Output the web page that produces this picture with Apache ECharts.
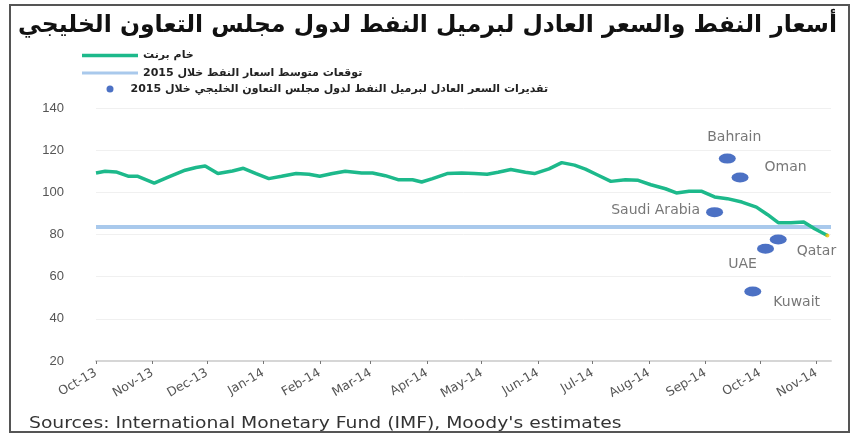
<!DOCTYPE html>
<html>
<head>
<meta charset="utf-8">
<script src="https://cdn.jsdelivr.net/npm/echarts@6/dist/echarts.min.js"></script>
<style>
  html, body { margin: 0; padding: 0; background: #fff; }
  #main { width: 857px; height: 436px; }
</style>
</head>
<body>
<div id="main" dir="rtl"></div>
<script>
// x axis: month starts and their labels
var monthStarts = ['2013-10-01', '2013-11-01', '2013-12-01', '2014-01-01', '2014-02-01', '2014-03-01', '2014-04-01',
    '2014-05-01', '2014-06-01', '2014-07-01', '2014-08-01', '2014-09-01', '2014-10-01', '2014-11-01'];
var monthLabels = ['Oct-13', 'Nov-13', 'Dec-13', 'Jan-14', 'Feb-14', 'Mar-14', 'Apr-14',
    'May-14', 'Jun-14', 'Jul-14', 'Aug-14', 'Sep-14', 'Oct-14', 'Nov-14'];
var yTicks = [20, 40, 60, 80, 100, 120, 140];

// Brent crude (USD/bbl)
var brentDates = ['2013-10-01', '2013-10-06', '2013-10-12', '2013-10-19', '2013-10-24', '2013-11-02', '2013-11-10',
    '2013-11-19', '2013-11-25', '2013-11-30', '2013-12-07', '2013-12-15', '2013-12-21', '2013-12-28',
    '2014-01-04', '2014-01-11', '2014-01-19', '2014-01-26', '2014-02-01', '2014-02-08', '2014-02-15',
    '2014-02-24', '2014-03-02', '2014-03-09', '2014-03-16', '2014-03-24', '2014-03-29', '2014-04-04',
    '2014-04-12', '2014-04-20', '2014-04-27', '2014-05-04', '2014-05-10', '2014-05-17', '2014-05-25',
    '2014-05-30', '2014-06-07', '2014-06-14', '2014-06-21', '2014-06-27', '2014-07-04', '2014-07-11',
    '2014-07-19', '2014-07-26', '2014-08-02', '2014-08-10', '2014-08-16', '2014-08-23', '2014-08-30',
    '2014-09-06', '2014-09-13', '2014-09-21', '2014-09-29', '2014-10-05', '2014-10-11', '2014-10-18',
    '2014-10-25', '2014-10-31', '2014-11-07'];
var brentValues = [109.2, 110.0, 109.7, 107.6, 107.6, 104.4, 107.3,
    110.5, 111.8, 112.5, 108.9, 110.1, 111.4, 108.9,
    106.5, 107.6, 108.9, 108.6, 107.6, 108.9, 110.0,
    109.2, 109.2, 107.9, 106.0, 106.0, 104.9, 106.5,
    108.9, 109.2, 108.9, 108.6, 109.5, 110.8, 109.5,
    108.9, 111.1, 114.1, 112.9, 111.0, 108.1, 105.2,
    106.0, 105.7, 103.6, 101.7, 99.7, 100.5, 100.5,
    97.8, 97.0, 95.4, 93.0, 89.5, 85.6, 85.6,
    85.9, 82.7, 79.5];

// average oil price forecast for 2015
var forecastDates = ['2013-10-01', '2014-11-09'];
var forecastValues = [83.5, 83.5];

// GCC fiscal breakeven estimates for 2015
var gccCountries = ['Saudi Arabia', 'Bahrain', 'Oman', 'Kuwait', 'UAE', 'Qatar'];
var gccDates = ['2014-09-06', '2014-09-13', '2014-09-20', '2014-09-27', '2014-10-04', '2014-10-11'];
var gccPrices = [90.6, 116, 107, 53, 73.2, 77.6];

var titleText = 'أسعار النفط والسعر العادل لبرميل النفط لدول مجلس التعاون الخليجي';
var brentName = 'خام برنت';
var forecastName = 'توقعات متوسط اسعار النفط خلال 2015';
var gccName = 'تقديرات السعر العادل لبرميل النفط لدول مجلس التعاون الخليجي خلال 2015';
var sourceText = "Sources: International Monetary Fund (IMF), Moody's estimates";

function toTime(s) {
    var p = s.split('-');
    return Date.UTC(+p[0], +p[1] - 1, +p[2]);
}

var monthTimes = monthStarts.map(toTime);

// where each country name sits around its dot
var labelPlace = {
    'Saudi Arabia': { position: 'left', distance: 6, offset: [0, -2] },
    'Bahrain': { position: 'top', distance: 9, offset: [7, 0] },
    'Oman': { position: 'right', distance: 16, offset: [0, -10] },
    'Kuwait': { position: 'right', distance: 12, offset: [0, 11] },
    'UAE': { position: 'bottom', distance: 4, offset: [-23, 0] },
    'Qatar': { position: 'right', distance: 10, offset: [0, 12] }
};

var chart = echarts.init(document.getElementById('main'), null, { renderer: 'canvas' });

var arabicFont = 'DejaVu Sans';
var latinFont = 'DejaVu Sans';
var legendText = { fontFamily: arabicFont, fontWeight: 'bold', fontSize: 11, color: '#222' };

var option = {
    backgroundColor: '#fff',
    animation: false,
    title: {
        text: titleText,
        right: 15,
        top: 9,
        textStyle: { fontFamily: arabicFont, fontWeight: 'bold', fontSize: 23.5, color: '#111' }
    },
    legend: [
        {
            data: [{ name: brentName, icon: 'rect' }], left: 82, top: 50, itemWidth: 56, itemHeight: 3.5,
            itemGap: 0, padding: 0, textStyle: legendText
        },
        {
            data: [{ name: forecastName, icon: 'rect' }], left: 82, top: 67.5, itemWidth: 56, itemHeight: 3,
            itemGap: 0, padding: 0, textStyle: legendText
        },
        {
            data: [{ name: gccName, icon: 'circle' }], left: 106.5, top: 83.5, itemWidth: 7, itemHeight: 7,
            itemGap: 0, padding: 0,
            textStyle: Object.assign({ padding: [0, 0, 0, 12] }, legendText)
        }
    ],
    grid: { left: 96, right: 26, top: 108, bottom: 75, containLabel: false },
    xAxis: {
        type: 'value',
        min: toTime(monthStarts[0]),
        max: toTime(forecastDates[1]),
        axisLine: { lineStyle: { color: '#d6d6d6', width: 2 } },
        axisTick: { show: true, customValues: monthTimes, length: 3, lineStyle: { color: '#777' } },
        axisLabel: {
            customValues: monthTimes,
            rotate: 30,
            margin: 11,
            fontFamily: latinFont,
            fontSize: 12.5,
            color: '#555',
            formatter: function (v) {
                var i = monthTimes.indexOf(v);
                return i >= 0 ? monthLabels[i] : '';
            }
        },
        splitLine: { show: false }
    },
    yAxis: {
        type: 'value',
        min: yTicks[0],
        max: yTicks[yTicks.length - 1],
        interval: 20,
        axisLine: { show: false },
        axisTick: { show: false },
        axisLabel: { margin: 32, fontFamily: 'Liberation Sans', fontSize: 13, color: '#555' },
        splitLine: { lineStyle: { color: '#f0f0f0', width: 1 } }
    },
    series: [
        {
            name: brentName,
            type: 'line',
            data: brentDates.map(function (d, i) { return [toTime(d), brentValues[i]]; }),
            symbol: 'none',
            lineStyle: { color: '#1db98b', width: 3.5 },
            itemStyle: { color: '#1db98b' },
            z: 4
        },
        {
            name: forecastName,
            type: 'line',
            data: forecastDates.map(function (d, i) { return [toTime(d), forecastValues[i]]; }),
            symbol: 'none',
            lineStyle: { color: '#a9c9ec', width: 4 },
            itemStyle: { color: '#a9c9ec' },
            z: 3
        },
        {
            name: gccName,
            type: 'scatter',
            symbol: 'path://M50,0A50,50,0,1,1,50,100A50,50,0,1,1,50,0Z',
            symbolSize: [17, 10],
            itemStyle: { color: '#1f4db5' },
            data: gccCountries.map(function (c, i) {
                var p = labelPlace[c];
                return {
                    name: c,
                    value: [toTime(gccDates[i]), gccPrices[i]],
                    label: {
                        show: true,
                        formatter: '{b}',
                        position: p.position,
                        distance: p.distance,
                        offset: p.offset,
                        fontFamily: latinFont,
                        fontSize: 14,
                        color: '#555'
                    }
                };
            }),
            z: 5
        },
        {
            // small yellow cap on the last Brent point
            type: 'scatter',
            silent: true,
            symbolSize: 4,
            itemStyle: { color: '#f2c200' },
            data: [[toTime(brentDates[brentDates.length - 1]), brentValues[brentValues.length - 1]]],
            z: 6
        }
    ],
    graphic: [
        {
            type: 'rect',
            shape: { x: 10, y: 5, width: 839, height: 427 },
            style: { fill: 'none', stroke: '#555', lineWidth: 2 },
            silent: true
        },
        {
            type: 'text',
            x: 29,
            y: 417,
            scaleX: 1.25,
            style: { text: sourceText, font: '15px "DejaVu Sans"', fill: '#333' },
            silent: true
        }
    ]
};

chart.setOption(option);
window.addEventListener('resize', function () { chart.resize(); });
</script>
</body>
</html>
